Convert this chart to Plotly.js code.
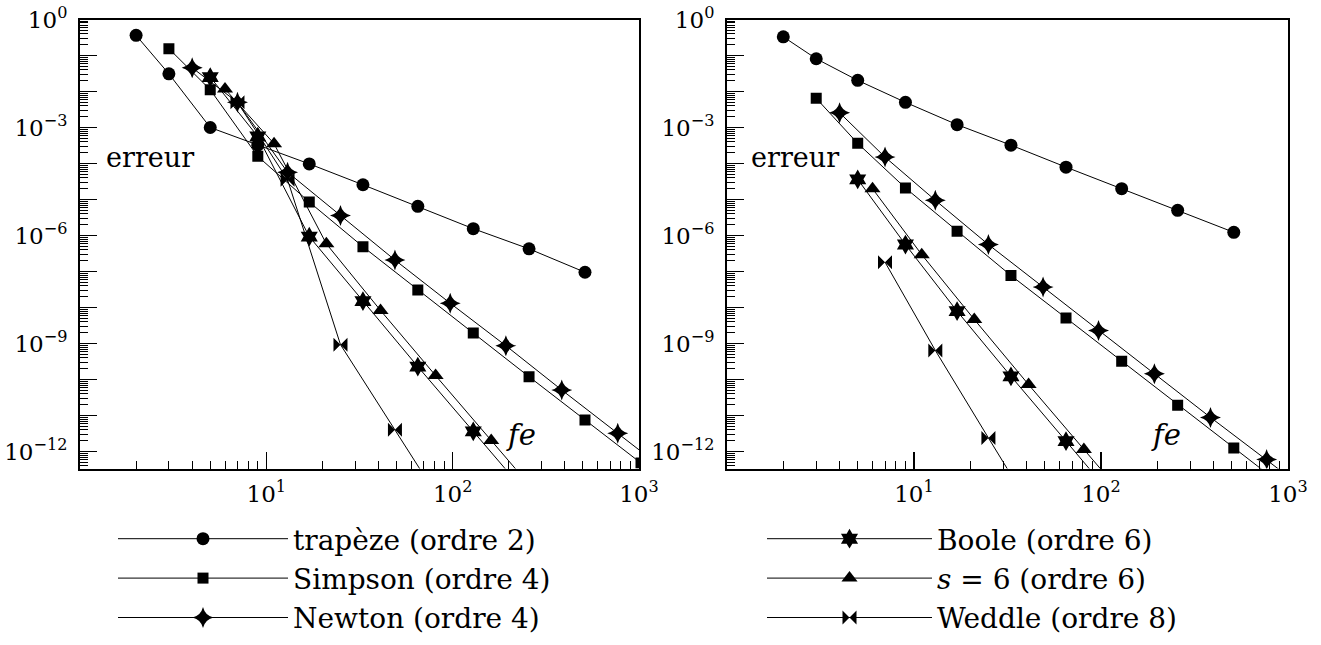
<!DOCTYPE html>
<html>
<head>
<meta charset="utf-8">
<script src="https://cdn.plot.ly/plotly-3.0.1.min.js"></script>
<style>html,body{margin:0;padding:0;background:#fff;}#chart{width:1321px;height:645px;}</style>
</head>
<body>
<div id="chart"></div>
<script>
// ---------- data ----------
// Left panel (A)
const feTrapA = [2, 3, 5, 9, 17, 33, 65, 129, 257, 513];
const errTrapA = [0.363, 0.0309, 1.0e-3, 3.24e-4, 9.77e-5, 2.57e-5, 6.46e-6, 1.55e-6, 4.27e-7, 9.55e-8];
const feSimpA = [3, 5, 9, 17, 33, 65, 129, 257, 513, 1025];
const errSimpA = [0.155, 0.0112, 1.58e-4, 8.51e-6, 4.90e-7, 3.09e-8, 1.95e-9, 1.20e-10, 7.59e-12, 4.79e-13];
const feNewtA = [4, 7, 13, 25, 49, 97, 193, 385, 769, 1537];
const errNewtA = [0.0457, 5.01e-3, 5.75e-5, 3.63e-6, 2.09e-7, 1.32e-8, 8.71e-10, 5.13e-11, 3.24e-12, 2.0e-13];
const feBoolA = [5, 9, 17, 33, 65, 129, 257];
const errBoolA = [0.0251, 5.62e-4, 9.33e-7, 1.51e-8, 2.29e-10, 3.63e-12, 5.62e-14];
const feS6A = [6, 11, 21, 41, 81, 161, 321];
const errS6A = [0.0117, 3.55e-4, 5.89e-7, 8.32e-9, 1.29e-10, 2.04e-12, 3.16e-14];
const feWedA = [7, 13, 25, 49, 97];
const errWedA = [5.01e-3, 3.55e-5, 9.33e-10, 4.07e-12, 1.58e-14];

// Right panel (B)
const feTrapB = [2, 3, 5, 9, 17, 33, 65, 129, 257, 513];
const errTrapB = [0.331, 0.0813, 0.0204, 5.01e-3, 1.20e-3, 3.24e-4, 7.94e-5, 2.0e-5, 5.01e-6, 1.23e-6];
const feSimpB = [3, 5, 9, 17, 33, 65, 129, 257, 513, 1025];
const errSimpB = [6.46e-3, 3.63e-4, 2.09e-5, 1.32e-6, 7.76e-8, 5.13e-9, 3.24e-10, 1.95e-11, 1.26e-12, 7.94e-14];
const feNewtB = [4, 7, 13, 25, 49, 97, 193, 385, 769, 1537];
const errNewtB = [2.57e-3, 1.51e-4, 9.55e-6, 5.62e-7, 3.72e-8, 2.29e-9, 1.45e-10, 8.91e-12, 6.03e-13, 3.80e-14];
const feBoolB = [5, 9, 17, 33, 65, 129];
const errBoolB = [3.63e-5, 5.62e-7, 7.94e-9, 1.23e-10, 1.95e-12, 2.88e-14];
const feS6B = [6, 11, 21, 41, 81, 161];
const errS6B = [2.0e-5, 2.95e-7, 4.68e-9, 7.24e-11, 1.15e-12, 1.78e-14];
const feWedB = [7, 13, 25, 49];
const errWedB = [1.82e-7, 6.46e-10, 2.40e-12, 7.94e-15];

const seriesNames = ['trapèze (ordre 2)', 'Simpson (ordre 4)', 'Newton (ordre 4)',
                     'Boole (ordre 6)', '<i>s</i> = 6 (ordre 6)', 'Weddle (ordre 8)'];
const xTickVals = [1, 10, 100, 1000];
const xTickText = ['', '10<sup>1</sup>', '10<sup>2</sup>', '10<sup>3</sup>'];
const yExps = [0, -1, -2, -3, -4, -5, -6, -7, -8, -9, -10, -11, -12];
const yLabelEvery = 3;

// ---------- styles ----------
const FONT = 'DejaVu Serif';
const symbols = ['circle', 'square', 'star-diamond', 'hexagram', 'triangle-up', 'bowtie'];
const sizes = [13, 11, 15, 15, 14, 14];

const setsA = [[feTrapA, errTrapA], [feSimpA, errSimpA], [feNewtA, errNewtA],
               [feBoolA, errBoolA], [feS6A, errS6A], [feWedA, errWedA]];
const setsB = [[feTrapB, errTrapB], [feSimpB, errSimpB], [feNewtB, errNewtB],
               [feBoolB, errBoolB], [feS6B, errS6B], [feWedB, errWedB]];

const traces = [];
function mk(set, i, xa, ya, showleg, leg) {
  return {
    type: 'scatter', mode: 'lines+markers',
    x: set[0], y: set[1], xaxis: xa, yaxis: ya,
    name: seriesNames[i], showlegend: showleg, legend: leg,
    line: {color: '#000', width: 1},
    marker: {symbol: symbols[i], size: sizes[i], color: '#000', line: {width: 0}},
    cliponaxis: true, hoverinfo: 'x+y+name'
  };
}
setsA.forEach((s, i) => traces.push(mk(s, i, 'x', 'y', i < 3, 'legend')));
setsB.forEach((s, i) => traces.push(mk(s, i, 'x2', 'y2', i >= 3, 'legend2')));

// tick positions
const yTickVals = yExps.map(e => Math.pow(10, e));
const yTickText = yExps.map(e => (e % yLabelEvery === 0) ? ('10<sup>' + (e === 0 ? '0' : '\u2212' + (-e)) + '</sup>') : '');
const yMinor = [];
for (let e = -13; e <= -1; e++) for (let m = 2; m <= 9; m++) yMinor.push(m * Math.pow(10, e));
const xMinor = [];
for (let e = 0; e <= 2; e++) for (let m = 2; m <= 9; m++) xMinor.push(m * Math.pow(10, e));

const W = 1321, H = 645;
const px = v => v / W, py = v => (H - v) / H;

function xax(d0, d1, anchor) {
  return {
    type: 'log', range: [0, 3], domain: [px(d0), px(d1)], anchor: anchor,
    tickmode: 'array', tickvals: xTickVals, ticktext: xTickText,
    ticks: 'inside', ticklen: 17, tickwidth: 1.3, tickcolor: '#000',
    minor: {tickmode: 'array', tickvals: xMinor, ticks: 'inside', ticklen: 8, tickwidth: 1, tickcolor: '#000', showgrid: false},
    showline: true, linewidth: 2, linecolor: '#000', mirror: true,
    showgrid: false, zeroline: false, ticklabelstandoff: 4, ticklabeloverflow: 'allow',
    tickfont: {family: FONT, size: 23, color: '#000'}
  };
}
function yax(anchor) {
  return {
    type: 'log', range: [-12.47, 0], domain: [py(468.5), py(19.5)], anchor: anchor,
    tickmode: 'array', tickvals: yTickVals, ticktext: yTickText,
    ticks: 'inside', ticklen: 17, tickwidth: 1.3, tickcolor: '#000',
    minor: {tickmode: 'array', tickvals: yMinor, ticks: 'inside', ticklen: 8, tickwidth: 1, tickcolor: '#000', showgrid: false},
    showline: true, linewidth: 2, linecolor: '#000', mirror: true,
    showgrid: false, zeroline: false, ticklabelstandoff: 6, ticklabeloverflow: 'allow',
    tickfont: {family: FONT, size: 23, color: '#000'}
  };
}

const legFont = {family: FONT, size: 28, color: '#000'};
const layout = {
  width: W, height: H,
  margin: {l: 0, r: 0, t: 0, b: 0, autoexpand: false},
  paper_bgcolor: '#fff', plot_bgcolor: '#fff',
  font: {family: FONT, color: '#000'},
  xaxis: xax(80, 639, 'y'),
  yaxis: yax('x'),
  xaxis2: xax(727, 1288, 'y2'),
  yaxis2: yax('x2'),
  legend: {x: px(113), xanchor: 'left', y: py(514), yanchor: 'top', font: legFont,
           bgcolor: 'rgba(0,0,0,0)', borderwidth: 0, itemwidth: 170, traceorder: 'normal'},
  legend2: {x: px(762), xanchor: 'left', y: py(514), yanchor: 'top', font: legFont,
            bgcolor: 'rgba(0,0,0,0)', borderwidth: 0, itemwidth: 165, traceorder: 'normal'},
  annotations: [
    {xref: 'paper', yref: 'paper', x: px(104), y: py(158), xanchor: 'left', yanchor: 'middle',
     text: 'erreur', showarrow: false, font: {family: FONT, size: 27, color: '#000'}},
    {xref: 'paper', yref: 'paper', x: px(749), y: py(158), xanchor: 'left', yanchor: 'middle',
     text: 'erreur', showarrow: false, font: {family: FONT, size: 27, color: '#000'}},
    {xref: 'paper', yref: 'paper', x: px(521), y: py(435), xanchor: 'center', yanchor: 'middle',
     text: '<i>fe</i>', showarrow: false, font: {family: FONT, size: 29, color: '#000'}},
    {xref: 'paper', yref: 'paper', x: px(1166), y: py(435), xanchor: 'center', yanchor: 'middle',
     text: '<i>fe</i>', showarrow: false, font: {family: FONT, size: 29, color: '#000'}}
  ]
};

Plotly.newPlot('chart', traces, layout, {displayModeBar: false, staticPlot: true});
</script>
</body>
</html>
